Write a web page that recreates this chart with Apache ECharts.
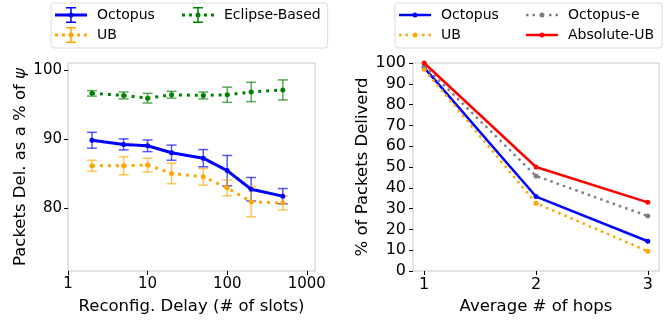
<!DOCTYPE html>
<html>
<head>
<meta charset="utf-8">
<script src="https://cdn.jsdelivr.net/npm/echarts@6/dist/echarts.min.js"></script>
<style>
html,body{margin:0;padding:0;background:#fff;}
#chart{width:669px;height:320px;}
</style>
</head>
<body>
<div id="chart"></div>
<script>
// ---- Data ----
const delaySlots = [2, 5, 10, 20, 50, 100, 200, 500];
const octopusDel = [89.8, 89.2, 89.0, 88.0, 87.2, 85.4, 82.7, 81.7];
const octopusErr = [1.15, 0.8, 0.85, 1.1, 1.25, 2.2, 1.7, 1.1];
const ubDel = [86.1, 86.1, 86.2, 85.0, 84.5, 82.9, 80.9, 80.7];
const ubErr = [0.8, 1.3, 1.0, 1.5, 1.2, 1.15, 2.2, 1.0];
const eclipseDel = [96.6, 96.3, 95.9, 96.4, 96.3, 96.4, 96.8, 97.1];
const eclipseErr = [0.4, 0.5, 0.7, 0.5, 0.5, 1.1, 1.4, 1.45];

const hops = [1, 2, 3];
const octopusHops = [97.8, 35.8, 14.3];
const ubHops = [97.0, 32.6, 9.5];
const octopusEHops = [98.7, 45.7, 26.4];
const absUbHops = [100, 50, 33];

const delayTicks = [1, 10, 100, 1000];
const delPctTicks = [80, 90, 100];
const hopTicks = [1, 2, 3];

// ---- Styling ----
const FONT = 'DejaVu Sans';
const C_BLUE = '#0000ff', C_ORANGE = '#ffa500', C_GREEN = '#008000', C_GRAY = '#808080', C_RED = '#ff0000';

const pairs = (xs, ys) => xs.map((x, i) => [x, ys[i]]);
const triples = (xs, ys, es) => xs.map((x, i) => [x, ys[i], es[i]]);

function errorBarSeries(name, color, xs, ys, es) {
  return {
    type: 'custom', name: name, xAxisIndex: 0, yAxisIndex: 0, z: 3,
    data: triples(xs, ys, es),
    renderItem: function (params, api) {
      const x = api.value(0), y = api.value(1), e = api.value(2);
      const top = api.coord([x, y + e]);
      const bot = api.coord([x, y - e]);
      const hw = 5;
      const st = { stroke: color, lineWidth: 1.5, opacity: 0.65 };
      return {
        type: 'group',
        children: [
          { type: 'line', shape: { x1: top[0], y1: top[1], x2: bot[0], y2: bot[1] }, style: st },
          { type: 'line', shape: { x1: top[0] - hw, y1: top[1], x2: top[0] + hw, y2: top[1] }, style: st },
          { type: 'line', shape: { x1: bot[0] - hw, y1: bot[1], x2: bot[0] + hw, y2: bot[1] }, style: st }
        ]
      };
    }
  };
}

function lineSeries(name, color, xs, ys, dotted, width, xi, yi, z) {
  return {
    type: 'line', name: name, xAxisIndex: xi, yAxisIndex: yi, z: z,
    data: pairs(xs, ys),
    symbol: 'circle', symbolSize: 5, showSymbol: true,
    lineStyle: { color: color, width: width, type: dotted ? [width, width * 1.65] : 'solid', cap: 'butt' },
    itemStyle: { color: color, borderWidth: 0 },
    emphasis: { disabled: true }
  };
}

// legend icons
const ICON_ERR_SOLID = 'path://M0,6.5H32V9.5H0Z M15.25,0H16.75V16H15.25Z M11,0H21V1.5H11Z M11,14.5H21V16H11Z M13.5,8A2.5,2.5,0,1,1,18.5,8A2.5,2.5,0,1,1,13.5,8Z';
const ICON_ERR_DOT = 'path://M0,6.5H3V9.5H0Z M7,6.5H10V9.5H7Z M22,6.5H25V9.5H22Z M29,6.5H32V9.5H29Z M15.25,0H16.75V16H15.25Z M11,0H21V1.5H11Z M11,14.5H21V16H11Z M13.5,8A2.5,2.5,0,1,1,18.5,8A2.5,2.5,0,1,1,13.5,8Z';
const ICON_LINE_SOLID = 'path://M0,1.25H32V3.75H0Z M13.5,2.5A2.5,2.5,0,1,1,18.5,2.5A2.5,2.5,0,1,1,13.5,2.5Z';
const ICON_LINE_DOT = 'path://M0,1.25H2.5V3.75H0Z M6.5,1.25H9V3.75H6.5Z M23,1.25H25.5V3.75H23Z M29.5,1.25H32V3.75H29.5Z M13.5,2.5A2.5,2.5,0,1,1,18.5,2.5A2.5,2.5,0,1,1,13.5,2.5Z';

const legendText = { fontFamily: FONT, fontSize: 14, color: '#000', width: 81, overflow: 'none', lineHeight: 16, padding: [0, 0, 0, 5] };

const axisTickStyle = { show: true, length: 4, inside: false, lineStyle: { color: '#000', width: 1 } };

const option = {
  animation: false,
  backgroundColor: '#fff',
  textStyle: { fontFamily: FONT },
  legend: [
    {
      selectedMode: false, orient: 'horizontal', left: 51, top: 3, width: 300,
      itemWidth: 32, itemHeight: 16, itemGap: 4,
      padding: [4, 7, 5, 4],
      borderColor: '#dcdcdc', borderWidth: 1, borderRadius: 3,
      textStyle: legendText,
      data: [
        { name: 'Octopus', icon: ICON_ERR_SOLID },
        { name: 'Eclipse-Based', icon: ICON_ERR_DOT },
        { name: 'UB', icon: ICON_ERR_DOT }
      ]
    },
    {
      selectedMode: false, orient: 'horizontal', left: 395, top: 3, width: 260,
      itemWidth: 32, itemHeight: 5, itemGap: 4,
      padding: [4, 8, 5, 4],
      borderColor: '#dcdcdc', borderWidth: 1, borderRadius: 3,
      textStyle: legendText,
      data: [
        { name: 'Octopus', icon: ICON_LINE_SOLID },
        { name: 'Octopus-e', icon: ICON_LINE_DOT },
        { name: 'UB', icon: ICON_LINE_DOT },
        { name: 'Absolute-UB', icon: ICON_LINE_SOLID }
      ]
    }
  ],
  grid: [
    { left: 68, top: 63, width: 247, height: 210, show: true, borderColor: '#c8c8c8', borderWidth: 1, backgroundColor: 'transparent', containLabel: false },
    { left: 413, top: 63, width: 246, height: 210, show: true, borderColor: '#c8c8c8', borderWidth: 1, backgroundColor: 'transparent', containLabel: false }
  ],
  xAxis: [
    {
      gridIndex: 0, type: 'log', logBase: 10, min: 1, max: 1268,
      name: 'Reconfig. Delay (# of slots)', nameLocation: 'middle', nameGap: 27,
      nameTextStyle: { fontFamily: FONT, fontSize: 16.5, color: '#000' },
      axisLine: { show: false },
      axisTick: Object.assign({ customValues: delayTicks }, axisTickStyle),
      axisLabel: { customValues: delayTicks, fontFamily: FONT, fontSize: 15, color: '#000', margin: 6,
        formatter: function (v) { return String(Math.round(v)); } },
      splitLine: { show: false }, minorTick: { show: false }
    },
    {
      gridIndex: 1, type: 'value', min: 0.9, max: 3.1,
      name: 'Average # of hops', nameLocation: 'middle', nameGap: 27,
      nameTextStyle: { fontFamily: FONT, fontSize: 16.5, color: '#000' },
      axisLine: { show: false },
      axisTick: Object.assign({ customValues: hopTicks }, axisTickStyle),
      axisLabel: { customValues: hopTicks, fontFamily: FONT, fontSize: 16, color: '#000', margin: 6 },
      splitLine: { show: false }
    }
  ],
  yAxis: [
    {
      gridIndex: 0, type: 'value', min: 70.85, max: 101.0,
      name: 'Packets Del. as a % of {i|ψ}', nameLocation: 'middle', nameGap: 39,
      nameTextStyle: { fontFamily: FONT, fontSize: 16.5, color: '#000', rich: { i: { fontFamily: FONT, fontSize: 16.5, fontStyle: 'italic', color: '#000' } } },
      axisLine: { show: false },
      axisTick: Object.assign({ customValues: delPctTicks }, axisTickStyle),
      axisLabel: { customValues: delPctTicks, fontFamily: FONT, fontSize: 15, color: '#000', margin: 6 },
      splitLine: { show: false }
    },
    {
      gridIndex: 1, type: 'value', min: 0, max: 100, interval: 10,
      name: '% of Packets Deliverd', nameLocation: 'middle', nameGap: 40,
      nameTextStyle: { fontFamily: FONT, fontSize: 16.5, color: '#000' },
      axisLine: { show: false },
      axisTick: axisTickStyle,
      axisLabel: { fontFamily: FONT, fontSize: 16, color: '#000', margin: 7 },
      splitLine: { show: false }
    }
  ],
  series: [
    lineSeries('Octopus', C_BLUE, delaySlots, octopusDel, false, 3, 0, 0, 4),
    errorBarSeries('Octopus err', C_BLUE, delaySlots, octopusDel, octopusErr),
    lineSeries('UB', C_ORANGE, delaySlots, ubDel, true, 3, 0, 0, 4),
    errorBarSeries('UB err', C_ORANGE, delaySlots, ubDel, ubErr),
    lineSeries('Eclipse-Based', C_GREEN, delaySlots, eclipseDel, true, 3, 0, 0, 4),
    errorBarSeries('Eclipse err', C_GREEN, delaySlots, eclipseDel, eclipseErr),

    lineSeries('Octopus', C_BLUE, hops, octopusHops, false, 2.5, 1, 1, 4),
    lineSeries('UB', C_ORANGE, hops, ubHops, true, 2.5, 1, 1, 5),
    lineSeries('Octopus-e', C_GRAY, hops, octopusEHops, true, 2.5, 1, 1, 6),
    lineSeries('Absolute-UB', C_RED, hops, absUbHops, false, 2.5, 1, 1, 7)
  ]
};

const chart = echarts.init(document.getElementById('chart'), null, { renderer: 'canvas' });
chart.setOption(option);
</script>
</body>
</html>
